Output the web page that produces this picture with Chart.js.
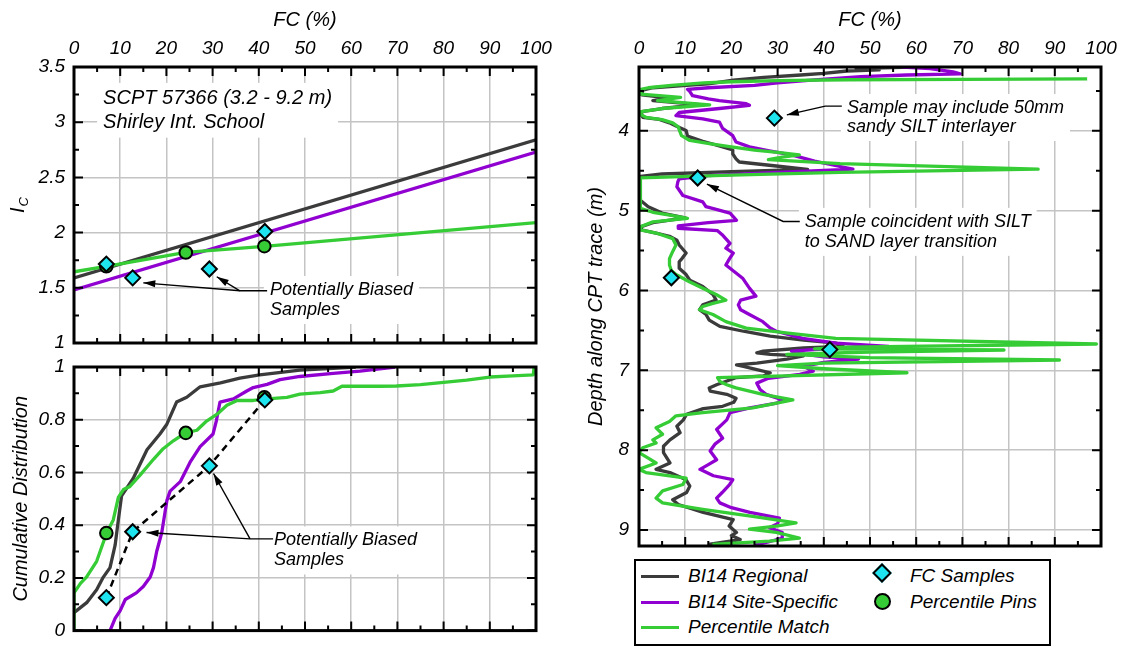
<!DOCTYPE html>
<html>
<head>
<meta charset="utf-8">
<script src="https://cdn.jsdelivr.net/npm/chart.js@4.4.1/dist/chart.umd.min.js"></script>
<style>
  html, body { margin: 0; padding: 0; background: #fff; }
  #wrap { position: relative; width: 1124px; height: 651px; overflow: hidden; background: #fff; }
  #wrap canvas { position: absolute; left: 0; top: 0; }
  #legend { position: absolute; left: 634px; top: 559px; width: 413px; height: 83px;
            border: 2px solid #000; background: #fff; color: #000;
            font: italic 19px 'Liberation Sans', Arial, sans-serif; }
  .item { position: absolute; height: 22px; line-height: 22px; white-space: nowrap; }
  .sw { position: absolute; left: 5px; top: 9.5px; width: 38px; height: 3.3px; }
  .txt { position: absolute; left: 52px; top: 0; }
  .dia { position: absolute; left: 3px; top: 1px; width: 10px; height: 10px; background: #1ee4ef;
         border: 2px solid #000; transform: rotate(45deg); }
  .dot { position: absolute; left: 2px; top: 2px; width: 13px; height: 13px; background: #36cc36;
         border: 2px solid #000; border-radius: 50%; }
</style>
</head>
<body>
<div id="wrap">
  <canvas id="cTop" width="1124" height="651"></canvas>
  <canvas id="cCdf" width="1124" height="651"></canvas>
  <canvas id="cDepth" width="1124" height="651"></canvas>
  <div id="legend">
    <div class="item" style="left:0;top:4px"><div class="sw" style="background:#3b3b3b"></div><span class="txt">BI14 Regional</span></div>
    <div class="item" style="left:0;top:30px"><div class="sw" style="background:#9000d0"></div><span class="txt">BI14 Site-Specific</span></div>
    <div class="item" style="left:0;top:55px"><div class="sw" style="background:#36cc36"></div><span class="txt">Percentile Match</span></div>
    <div class="item" style="left:236px;top:4px"><div class="dia"></div><span class="txt" style="left:38px">FC Samples</span></div>
    <div class="item" style="left:236px;top:30px"><div class="dot"></div><span class="txt" style="left:38px">Percentile Pins</span></div>
  </div>
</div>
<script>
// ---------------- data ----------------
// Ic vs FC relations (top left)
const icLineFc = [0, 100];
const icRegional = [1.59, 2.84];
const icSiteSpecific = [1.48, 2.73];
const icMatchFc = [0, 7, 24.2, 41.2, 100];
const icMatch = [1.645, 1.695, 1.82, 1.875, 2.09];

// lab FC samples and percentile pins
const sampleFc = [7, 12.7, 29.3, 41.3];
const sampleIc = [1.715, 1.59, 1.67, 2.01];
const sampleCdf = [0.125, 0.375, 0.625, 0.875];
const sampleDepth = [5.84, 4.59, 3.84, 6.74];
const pinFc = [7, 24.2, 41.2];
const pinIc = [1.695, 1.82, 1.877];
const pinCdf = [0.37, 0.75, 0.885];

// cumulative distributions [FC, P]
const cdfRegional = [[0,0.068],[2.75,0.106],[4.9,0.155],[6.35,0.203],[7.8,0.239],[8.9,0.324],[9.6,0.42],[10.3,0.511],
  [12.8,0.577],[15.8,0.686],[18.6,0.746],[20.1,0.783],[22.2,0.867],[24.4,0.885],[27.3,0.925],[31.7,0.94],[35.9,0.958],
  [40.2,0.97],[48.9,0.988],[56.1,0.995],[61,1.0]];
const cdfSiteSpecific = [[7.8,0],[8.9,0.046],[10,0.076],[11.1,0.118],[13.5,0.143],[15,0.167],[16.5,0.203],[17.2,0.239],
  [17.9,0.30],[19,0.372],[20.1,0.493],[20.8,0.529],[23,0.565],[25.1,0.638],[27.3,0.698],[30.1,0.746],[30.8,0.795],
  [31.6,0.867],[34.5,0.879],[37.4,0.909],[38.8,0.922],[41.8,0.934],[44.6,0.952],[48.9,0.964],[56.1,0.976],[61.9,0.984],[69.5,1.0]];
const cdfMatch = [[0,0],[0,0.143],[1.4,0.179],[2.7,0.203],[4.9,0.263],[7.1,0.372],[8.5,0.42],[9.6,0.505],[10.7,0.535],
  [12.1,0.547],[14.3,0.59],[17.2,0.65],[19.3,0.69],[21.5,0.72],[24.1,0.75],[26.6,0.76],[28.7,0.795],[30.9,0.82],[33.1,0.855],
  [35.3,0.873],[38.8,0.873],[41.8,0.879],[46.1,0.885],[48.9,0.897],[53.3,0.903],[56.1,0.909],[58,0.927],[66.2,0.927],
  [69.8,0.928],[75,0.933],[80,0.942],[85,0.95],[90,0.962],[95,0.966],[99.4,0.97],[99.6,1.0]];

// FC profiles along the CPT trace [depth, FC]
const profRegional = [[3.20,59],[3.22,47],[3.235,52],[3.25,45],[3.28,40],[3.30,35],[3.33,27],[3.366,20.4],[3.41,15],
  [3.43,10.3],[3.46,3],[3.49,0.8],[3.55,0.6],[3.59,6.6],[3.62,3],[3.67,13],[3.72,5],[3.76,0.6],[3.81,0.6],[3.83,0.8],
  [3.857,4.4],[3.90,6.6],[3.94,8.0],[3.995,10.2],[4.066,10.5],[4.13,13.8],[4.20,18.1],[4.24,20.3],[4.29,20.3],[4.35,21],
  [4.39,21.7],[4.44,29.7],[4.483,36.5],[4.51,20],[4.54,5],[4.57,0.3],[4.87,0.3],[4.95,2],[5.03,5],[5.09,10],[5.15,3],
  [5.20,0.5],[5.24,0.5],[5.28,3.7],[5.32,6.6],[5.37,8.2],[5.43,8.7],[5.53,10.2],[5.60,9.3],[5.64,8.7],[5.72,8.7],[5.80,10.2],
  [5.87,11],[5.95,13.8],[6.05,16],[6.12,16.7],[6.18,13.8],[6.24,13.1],[6.30,14.5],[6.37,15.2],[6.45,17.5],[6.51,22.6],
  [6.57,28.4],[6.62,35.6],[6.66,42.8],[6.70,44.2],[6.72,35.6],[6.76,26.9],[6.78,25.5],[6.80,28.4],[6.82,35.6],[6.86,32],
  [6.91,25.5],[6.93,21.1],[6.95,22.6],[6.99,25.5],[7.03,28.4],[7.07,26.9],[7.09,21.1],[7.18,16.8],[7.22,15.2],[7.26,15.4],
  [7.30,19],[7.35,21],[7.40,20.5],[7.45,18.1],[7.48,13.9],[7.55,10.3],[7.62,9.6],[7.70,8.2],[7.78,8.9],[7.87,6.7],[7.95,5.3],
  [8.03,5.3],[8.16,6.7],[8.24,3.7],[8.28,6.7],[8.37,10.2],[8.45,11],[8.53,10.3],[8.62,7.3],[8.68,8.5],[8.78,13.9],[8.87,20.4],
  [8.95,19.5],[9.03,21.1],[9.07,20],[9.12,21.9],[9.18,15]];
const profSiteSpecific = [[3.20,57],[3.22,63],[3.26,68],[3.285,69.5],[3.30,58],[3.32,48],[3.36,38],[3.40,30],[3.43,25],
  [3.46,15],[3.48,10.5],[3.50,10.9],[3.56,11.6],[3.60,15],[3.62,17.4],[3.66,23.2],[3.68,23.9],[3.72,17.4],[3.77,8.7],[3.81,8.0],
  [3.85,13.8],[3.89,17.4],[3.97,18.1],[4.06,20.3],[4.14,21],[4.20,23.9],[4.25,28.2],[4.30,33],[4.38,38],[4.44,43],[4.48,46.3],
  [4.52,30],[4.56,15],[4.60,8.7],[4.64,8.4],[4.70,8.2],[4.81,9.5],[4.89,13.8],[4.95,14.5],[5.03,19.7],[5.08,20.5],[5.12,21.1],
  [5.15,15],[5.19,8.5],[5.22,8.5],[5.25,17],[5.30,18],[5.41,19.7],[5.47,18.8],[5.53,20.4],[5.60,19.6],[5.68,18.8],[5.78,21],
  [5.85,22.5],[5.97,23.9],[6.07,25.3],[6.12,22],[6.18,21.5],[6.24,22],[6.30,23.9],[6.39,26.8],[6.47,28.4],[6.51,29.7],
  [6.60,35.4],[6.66,42.6],[6.70,54],[6.72,43],[6.76,33],[6.80,36],[6.83,40],[6.86,47.5],[6.90,40],[6.95,35.6],[7.01,37.7],
  [7.05,34.8],[7.10,28],[7.16,25.5],[7.24,26.2],[7.30,27.5],[7.37,31.1],[7.41,29.8],[7.47,24],[7.53,19.7],[7.62,19.0],
  [7.74,16.8],[7.85,18.1],[7.92,16.5],[8.01,15.4],[8.12,16.8],[8.18,15],[8.24,13.2],[8.32,16.1],[8.37,20.3],[8.43,19.6],
  [8.53,18],[8.60,16.8],[8.66,17.5],[8.72,20],[8.78,24],[8.85,30.4],[8.92,30],[8.97,28.2],[9.03,31],[9.10,31],[9.15,28],[9.19,25]];
const profMatch = [[3.35,97],[3.355,70],[3.36,45],[3.37,30],[3.385,20],[3.40,14],[3.43,7],[3.46,2],[3.48,0.4],[3.54,0.4],
  [3.58,9],[3.62,4],[3.675,15.3],[3.72,5],[3.76,0.5],[3.80,0.5],[3.83,1.5],[3.86,5],[3.90,7.3],[3.95,8.5],[4.00,8.8],
  [4.06,9.2],[4.12,11],[4.16,15.2],[4.20,20],[4.24,25],[4.27,30],[4.30,34.7],[4.33,31],[4.36,28],[4.41,43.5],[4.48,86.4],
  [4.52,43.5],[4.555,20],[4.59,0.3],[4.97,0.3],[5.02,3],[5.06,7],[5.095,10.5],[5.14,3],[5.20,0.3],[5.24,0.3],[5.28,3.7],
  [5.35,7.3],[5.43,8.0],[5.51,7.3],[5.60,6.6],[5.68,6.6],[5.75,7],[5.80,8.0],[5.89,10.9],[5.97,13.8],[6.05,16.7],[6.12,18.8],
  [6.16,16],[6.20,13.8],[6.24,13.1],[6.30,16],[6.39,18.8],[6.47,23.2],[6.53,31.8],[6.60,42.6],[6.67,99],[6.71,45],[6.73,38],
  [6.745,79],[6.77,50],[6.80,32],[6.84,50],[6.87,91],[6.91,40],[6.94,30],[6.98,40],[7.03,58],[7.09,17],[7.14,17.5],[7.18,19],
  [7.22,21],[7.30,26.8],[7.37,33.3],[7.42,29],[7.47,24.6],[7.53,13.8],[7.57,8.0],[7.64,6.6],[7.72,3.7],[7.80,5.1],[7.87,3.0],
  [7.91,3.7],[7.97,0.8],[8.03,0],[8.10,2],[8.16,3.7],[8.24,0],[8.28,1.5],[8.35,10.2],[8.43,9.5],[8.51,5.1],[8.60,3.7],
  [8.66,5.1],[8.74,13.8],[8.83,24.6],[8.91,34],[8.95,29.7],[8.99,23.9],[9.03,29.7],[9.10,34.7],[9.14,28.2],[9.18,15.9]];

const depthTicks = [4, 5, 6, 7, 8, 9];

// ---------------- styling ----------------
const FONT = "'Liberation Sans', Arial, Helvetica, sans-serif";
Chart.defaults.font.family = FONT;
Chart.defaults.font.style = 'italic';
Chart.defaults.font.size = 19;
Chart.defaults.color = '#000';

const GRID = '#c4c4c4';
const C_REG = '#3b3b3b', C_SITE = '#9000d0', C_MATCH = '#36cc36', C_CYAN = '#1ee4ef';

const zip = (xs, ys) => xs.map((v, i) => ({x: v, y: ys[i]}));
const fromPairs = pairs => pairs.map(p => ({x: p[0], y: p[1]}));
const fromProfile = pairs => pairs.map(p => ({x: p[1], y: p[0]}));

const lineSet = (data, color, extra) => Object.assign({
  data, showLine: true, borderColor: color, borderWidth: 3.3, pointRadius: 0, tension: 0,
  borderJoinStyle: 'round'
}, extra || {});
const diamonds = data => ({data, showLine: false, pointStyle: 'rectRot', pointRadius: 7.5,
  pointBackgroundColor: C_CYAN, pointBorderColor: '#000', pointBorderWidth: 2});
const circles = data => ({data, showLine: false, pointStyle: 'circle', pointRadius: 6.3,
  pointBackgroundColor: C_MATCH, pointBorderColor: '#000', pointBorderWidth: 2});

// frame, inward ticks, notes and arrows
function decor(cfg) {
  const near = (v, s) => Math.abs(v / s - Math.round(v / s)) < 1e-6;
  return {
    id: 'decor',
    beforeDatasetsDraw(chart) {
      const {ctx, scales: {x, y}} = chart;
      ctx.save();
      (cfg.notes || []).forEach(n => {
        const px = x.getPixelForValue(n.x), py = y.getPixelForValue(n.y);
        const gap = n.gap || 20;
        ctx.font = `italic ${n.size || 18}px ${FONT}`;
        const w = Math.max(...n.lines.map(t => ctx.measureText(t).width));
        ctx.fillStyle = '#fff';
        ctx.fillRect(px - 6, py - gap / 2 - 4, w + 12, gap * n.lines.length + 8);
        ctx.fillStyle = '#000';
        ctx.textBaseline = 'middle';
        ctx.textAlign = 'left';
        n.lines.forEach((t, i) => ctx.fillText(t, px, py + i * gap));
      });
      ctx.restore();
    },
    afterDraw(chart) {
      const {ctx, chartArea: a, scales: {x, y}} = chart;
      ctx.save();
      ctx.strokeStyle = '#000';
      ctx.lineWidth = 2;
      ctx.beginPath();
      for (let v = x.min; v <= x.max + 1e-9; v += cfg.xStep) {
        const p = x.getPixelForValue(v), len = near(v, cfg.xMajor) ? 9 : 5;
        ctx.moveTo(p, a.top); ctx.lineTo(p, a.top + len);
        ctx.moveTo(p, a.bottom); ctx.lineTo(p, a.bottom - len);
      }
      const y0 = Math.ceil(y.min / cfg.yStep - 1e-9) * cfg.yStep;
      for (let v = y0; v <= y.max + 1e-9; v += cfg.yStep) {
        const p = y.getPixelForValue(v), len = near(v, cfg.yMajor) ? 9 : 5;
        ctx.moveTo(a.left, p); ctx.lineTo(a.left + len, p);
        ctx.moveTo(a.right, p); ctx.lineTo(a.right - len, p);
      }
      ctx.stroke();
      ctx.lineWidth = 3;
      ctx.strokeRect(a.left, a.top, a.right - a.left, a.bottom - a.top);

      ctx.fillStyle = '#000';
      ctx.lineWidth = 1.4;
      (cfg.arrows || []).forEach(path => {
        const p = path.map(q => [x.getPixelForValue(q[0]), y.getPixelForValue(q[1])]);
        ctx.beginPath();
        ctx.moveTo(p[0][0], p[0][1]);
        p.slice(1).forEach(q => ctx.lineTo(q[0], q[1]));
        ctx.stroke();
        const [tx, ty] = p[p.length - 1], [sx, sy] = p[p.length - 2];
        const ang = Math.atan2(ty - sy, tx - sx), L = 12, W = 3.5;
        ctx.beginPath();
        ctx.moveTo(tx, ty);
        ctx.lineTo(tx - L * Math.cos(ang) + W * Math.sin(ang), ty - L * Math.sin(ang) - W * Math.cos(ang));
        ctx.lineTo(tx - L * Math.cos(ang) - W * Math.sin(ang), ty - L * Math.sin(ang) + W * Math.cos(ang));
        ctx.closePath();
        ctx.fill();
      });

      if (cfg.icLabel) {
        // y title with subscript C
        ctx.translate(18, (a.top + a.bottom) / 2);
        ctx.rotate(-Math.PI / 2);
        ctx.textBaseline = 'middle';
        ctx.textAlign = 'left';
        ctx.font = `italic 20px ${FONT}`;
        ctx.fillText('I', -8, 0);
        ctx.font = `italic 13px ${FONT}`;
        ctx.fillText('C', -1.5, 6);
      }
      ctx.restore();
    }
  };
}

const fcAxis = (titleOn) => ({
  type: 'linear', position: titleOn ? 'top' : 'bottom', min: 0, max: 100,
  ticks: {display: titleOn, stepSize: 10, maxRotation: 0, minRotation: 0, autoSkip: false, padding: 7},
  grid: {color: GRID, lineWidth: 1.5, drawTicks: false},
  border: {display: false},
  title: {display: titleOn, text: 'FC (%)', font: {size: 20}, padding: {top: 8, bottom: 0}},
  afterFit: s => { s.height = titleOn ? 67 : 0; }
});
const baseOpts = pad => ({
  responsive: false, animation: false, events: [], devicePixelRatio: 1,
  layout: {padding: pad},
  plugins: {legend: {display: false}, tooltip: {enabled: false}}
});

// ---------- top left: Ic vs FC ----------
new Chart(document.getElementById('cTop'), {
  type: 'scatter',
  data: {datasets: [
    diamonds(zip(sampleFc, sampleIc)),
    circles(zip(pinFc, pinIc)),
    lineSet(zip(icMatchFc, icMatch), C_MATCH),
    lineSet(zip(icLineFc, icSiteSpecific), C_SITE),
    lineSet(zip(icLineFc, icRegional), C_REG)
  ]},
  options: Object.assign(baseOpts({left: 0, top: 0, right: 588, bottom: 308}), {
    scales: {
      x: fcAxis(true),
      y: {type: 'linear', position: 'left', min: 1, max: 3.5,
        ticks: {stepSize: 0.5, padding: 9, callback: v => String(+v.toFixed(2))},
        grid: {color: GRID, lineWidth: 1.5, drawTicks: false}, border: {display: false},
        afterFit: s => { s.width = 74; }}
    }
  }),
  plugins: [decor({
    xStep: 5, xMajor: 10, yStep: 0.25, yMajor: 0.5, icLabel: true,
    notes: [
      {x: 6.3, y: 3.214, lines: ['SCPT 57366 (3.2 - 9.2 m)', 'Shirley Int. School'], gap: 23.4, size: 20},
      {x: 42.4, y: 1.48, lines: ['Potentially Biased', 'Samples'], gap: 20}
    ],
    arrows: [
      [[41.8, 1.473], [35.9, 1.473], [15.0, 1.545]],
      [[35.9, 1.473], [30.9, 1.60]]
    ]
  })]
});

// ---------- bottom left: cumulative distribution ----------
new Chart(document.getElementById('cCdf'), {
  type: 'scatter',
  data: {datasets: [
    diamonds(zip(sampleFc, sampleCdf)),
    circles(zip(pinFc, pinCdf)),
    lineSet(zip(sampleFc, sampleCdf), '#000', {borderWidth: 2.5, borderDash: [7, 5]}),
    lineSet(fromPairs(cdfMatch), C_MATCH),
    lineSet(fromPairs(cdfSiteSpecific), C_SITE),
    lineSet(fromPairs(cdfRegional), C_REG)
  ]},
  options: Object.assign(baseOpts({left: 0, top: 367, right: 588, bottom: 8}), {
    scales: {
      x: fcAxis(false),
      y: {type: 'linear', position: 'left', min: 0, max: 1,
        ticks: {stepSize: 0.2, padding: 9, callback: v => String(Math.round(v * 10) / 10)},
        grid: {color: GRID, lineWidth: 1.5, drawTicks: false}, border: {display: false},
        title: {display: true, text: 'Cumulative Distribution', font: {size: 20}, padding: {top: 9, bottom: 0}},
        afterFit: s => { s.width = 74; }}
    }
  }),
  plugins: [decor({
    xStep: 5, xMajor: 10, yStep: 0.1, yMajor: 0.2,
    notes: [{x: 43.3, y: 0.342, lines: ['Potentially Biased', 'Samples'], gap: 20}],
    arrows: [
      [[43.1, 0.348], [38.1, 0.348], [15.7, 0.372]],
      [[38.1, 0.348], [30.2, 0.596]]
    ]
  })]
});

// ---------- right: FC along depth ----------
new Chart(document.getElementById('cDepth'), {
  type: 'scatter',
  data: {datasets: [
    diamonds(zip(sampleFc, sampleDepth)),
    lineSet(fromProfile(profMatch), C_MATCH),
    lineSet(fromProfile(profSiteSpecific), C_SITE),
    lineSet(fromProfile(profRegional), C_REG)
  ]},
  options: Object.assign(baseOpts({left: 575, top: 0, right: 23, bottom: 105}), {
    scales: {
      x: fcAxis(true),
      y: {type: 'linear', position: 'left', min: 3.2, max: 9.2, reverse: true,
        afterBuildTicks: s => { s.ticks = depthTicks.map(v => ({value: v})); },
        ticks: {padding: 10, callback: v => String(v)},
        grid: {color: GRID, lineWidth: 1.5, drawTicks: false}, border: {display: false},
        title: {display: true, text: 'Depth along CPT trace (m)', font: {size: 20}, padding: {top: 9, bottom: 0}},
        afterFit: s => { s.width = 64; }}
    }
  }),
  plugins: [decor({
    xStep: 5, xMajor: 10, yStep: 0.5, yMajor: 1,
    notes: [
      {x: 45, y: 3.71, lines: ['Sample may include 50mm', 'sandy SILT interlayer'], gap: 19.5},
      {x: 35.9, y: 5.14, lines: ['Sample coincident with SILT', 'to SAND layer transition'], gap: 20}
    ],
    arrows: [
      [[43.9, 3.69], [40.3, 3.69], [32.0, 3.80]],
      [[34.8, 5.135], [31.2, 5.135], [14.7, 4.666]]
    ]
  })]
});
</script>
</body>
</html>
